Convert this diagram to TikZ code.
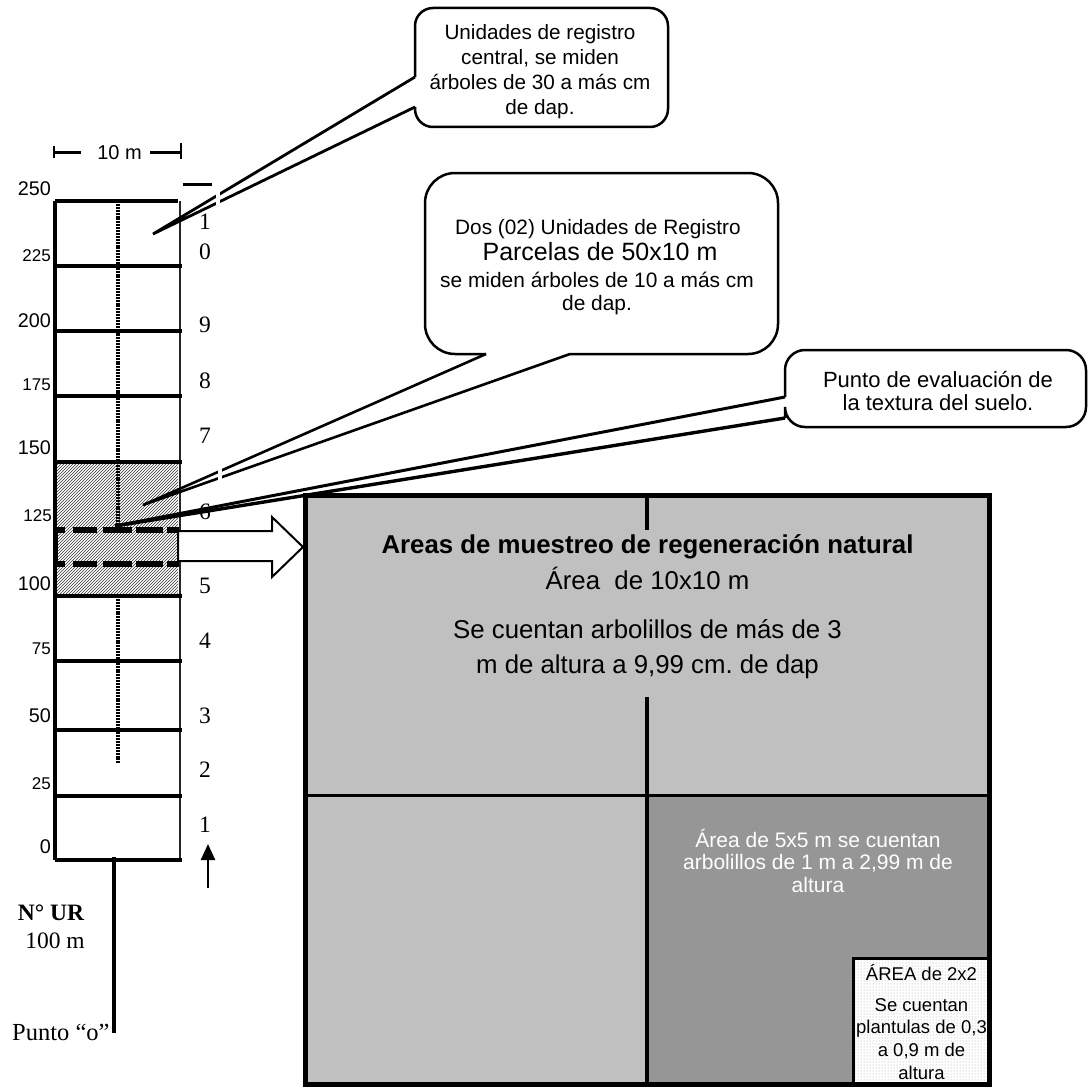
\documentclass[tikz,border=0pt]{standalone}
\usepackage{fontspec}
\setmainfont{Liberation Sans}
\newfontfamily\tnr{Liberation Serif}
\usetikzlibrary{patterns,arrows.meta}
\newcommand\myfs[2]{\fontsize{#1}{#2}\selectfont}
\definecolor{lightg}{HTML}{C0C0C0}
\definecolor{darkg}{HTML}{969696}
\begin{document}
\frenchspacing
\begin{tikzpicture}[x=1pt,y=1pt,yscale=-1,
  stripline/.style={line width=3.2pt},
  calloutbox/.style={line width=2.5pt, rounded corners=#1},
  tail/.style={line width=2.8pt, line join=miter},
  dotline/.style={line width=4pt, dash pattern=on 2pt off 0.9pt},
  dashbox/.style={line width=6pt},
  biglbl/.style={font=\myfs{19.8}{22}, anchor=base east, inner sep=0pt},
  smalllbl/.style={font=\myfs{17}{19}, anchor=base east, inner sep=0pt},
  numlbl/.style={font=\tnr\myfs{23.5}{25}, anchor=base, inner sep=0pt},
  boxtxt/.style={font=\myfs{25.8}{28}, anchor=base, inner sep=0pt},
  darktxt/.style={font=\myfs{21}{22.5}, anchor=base, inner sep=0pt, text=white},
  smalltxt/.style={font=\myfs{18.5}{22.5}, anchor=base, inner sep=0pt}
]
\useasboundingbox (0,0) rectangle (1088,1089);

% ---------- strip ----------
\fill[pattern=north east lines, pattern color=black!80] (55,462) rectangle (178,596);
\draw[dotline] (118,201) -- (118,525);
\draw[dotline] (118,596) -- (118,763);
\draw[dashbox, dash pattern=on 12pt off 8pt on 24pt off 6pt on 29pt off 4pt on 27pt off 4pt on 20pt] (53,530) -- (180,530);
\draw[dashbox, dash pattern=on 12pt off 8pt on 24pt off 6pt on 29pt off 4pt on 27pt off 4pt on 20pt] (53,564) -- (180,564);
\draw[line width=5pt] (55.5,530) -- (55.5,564);

\draw[black!85, line width=1.2pt] (180,201) -- (180,860);
\draw[stripline] (55,201) -- (55,860);
\draw[stripline] (55,201) -- (178,201);
\foreach \yy in {266,331,396,462,596,661,730,796} \draw[stripline] (55,\yy) -- (182,\yy);
\draw[stripline] (55,860) -- (182,860);
\draw[line width=3pt] (183,184) -- (212,184);

% dimension 10 m
\draw[line width=2.8pt] (54,146) -- (54,158);
\draw[line width=2.8pt] (54,152.5) -- (81,152.5);
\node[font=\myfs{20}{22}, anchor=base, inner sep=0pt] (dim) at (119.5,160) {10 m};
\draw[line width=2.8pt] (150,152.5) -- (181,152.5);
\draw[line width=2.8pt] (181,143) -- (181,159);

% left labels
\node[biglbl] (l250) at (51,195) {250};
\node[smalllbl] (l225) at (51,261) {225};
\node[biglbl] (l200) at (51,327) {200};
\node[smalllbl] (l175) at (51,390) {175};
\node[biglbl] (l150) at (51,454) {150};
\node[smalllbl] (l125) at (52,521) {125};
\node[biglbl] (l100) at (51,590) {100};
\node[smalllbl] (l75) at (51,654) {75};
\node[biglbl] (l50) at (51,722) {50};
\node[smalllbl] (l25) at (51,789) {25};
\node[biglbl] (l0) at (51,853) {0};

% right numbers
\node[numlbl] (n10a) at (205,229) {1};
\node[numlbl] (n10b) at (205,259) {0};
\node[numlbl] (n9) at (205,332) {9};
\node[numlbl] (n8) at (205,388) {8};
\node[numlbl] (n7) at (205,443) {7};
\node[numlbl] (n6) at (205,519) {6};
\node[numlbl] (n5) at (205,593) {5};
\node[numlbl] (n4) at (205,648) {4};
\node[numlbl] (n3) at (205,723) {3};
\node[numlbl] (n2) at (205,777) {2};
\node[numlbl] (n1) at (205,832) {1};
\coordinate (upA) at (208,888);
\coordinate (upB) at (208,844);
\draw[line width=2.5pt, -{Triangle[length=16pt,width=14pt]}] (upA) -- (upB);

% bottom
\node[font=\tnr\bfseries\myfs{23.5}{25}, anchor=base, inner sep=0pt] (nur) at (51,920) {N° UR};
\node[font=\tnr\myfs{23.5}{25}, anchor=base, inner sep=0pt] (cien) at (55,948) {100 m};
\node[font=\tnr\myfs{24.5}{25}, anchor=base west, inner sep=0pt] (punto) at (12,1040) {Punto “o”};
\coordinate (ptop) at (113.5,857);
\coordinate (pbot) at (113.5,1033);
\draw[line width=4pt] (ptop) -- (pbot);

% block arrow
\draw[line width=2pt, fill=white, line join=miter] (178,531) -- (272,531) -- (272,517) -- (303,547) -- (272,577) -- (272,561) -- (178,561) -- cycle;

% ---------- big box ----------
\fill[lightg] (305.5,495.5) rectangle (989.5,1084.5);
\fill[darkg] (647,795.5) rectangle (989.5,1084.5);
\fill[white] (853.5,958) rectangle (989.5,1084.5);
\fill[pattern=dots, pattern color=black!35] (853.5,958) rectangle (989.5,1084.5);
\draw[line width=3pt] (853.5,1084.5) -- (853.5,958) -- (989.5,958);
\draw[line width=3.5pt] (305.5,795.5) -- (989.5,795.5);
\draw[line width=3.5pt] (647,495.5) -- (647,530);
\draw[line width=3.5pt] (647,697) -- (647,1084.5);
\draw[line width=5pt] (305.5,495.5) rectangle (989.5,1084.5);

\node[boxtxt, font=\bfseries\myfs{25.8}{28}] (head) at (647.5,553) {Areas de muestreo de regeneración natural};
\node[boxtxt] (a10) at (647.5,589) {Área\ \ de 10x10 m};
\node[boxtxt] (se1) at (647.5,638) {Se cuentan arbolillos de más de 3};
\node[boxtxt] (se2) at (647.5,673) {m de altura a 9,99 cm. de dap};

\node[darktxt] (d1) at (818,847) {Área de 5x5 m se cuentan};
\node[darktxt] (d2) at (818,869.5) {arbolillos de 1 m a 2,99 m de};
\node[darktxt] (d3) at (818,892) {altura};

\node[smalltxt] (s1) at (921.5,980) {ÁREA de 2x2};
\node[smalltxt] (s2) at (921.5,1011) {Se cuentan};
\node[smalltxt] (s3) at (921.5,1033) {plantulas de 0,3};
\node[smalltxt] (s4) at (921.5,1056) {a 0,9 m de};
\node[smalltxt] (s5) at (921.5,1079) {altura};

% ---------- callouts ----------
\coordinate (tip1) at (153,234);
\coordinate (tip2) at (143,505);
\coordinate (tip3) at (115,526);

% callout 1
\fill[white, rounded corners=18pt] (415,8) rectangle (668,127);
\draw[calloutbox=18pt] (415,77) -- (415,8) -- (668,8) -- (668,127) -- (415,127) -- (415,107);
\draw[tail] (415,77) -- (tip1) -- (415,107);
\node[font=\myfs{20.7}{25.3}, align=center, anchor=base, inner sep=0pt] (c1) at (540,115)
  {Unidades de registro\\central, se miden\\árboles de 30 a más cm\\de dap.};

% callout 2
\fill[white, rounded corners=30pt] (425,173) rectangle (778,354);
\draw[calloutbox=30pt] (570,354) -- (778,354) -- (778,173) -- (425,173) -- (425,354) -- (486,354);
\draw[tail, line width=2.6pt] (486,354) -- (tip2) -- (570,354);
\node[font=\myfs{20.8}{24}, anchor=base, inner sep=0pt] (c2a) at (598,234) {Dos (02) Unidades de Registro};
\node[font=\myfs{25}{28}, anchor=base, inner sep=0pt] (c2b) at (600,260) {Parcelas de 50x10 m};
\node[font=\myfs{20.9}{24}, anchor=base, inner sep=0pt] (c2c) at (597,287) {se miden árboles de 10 a más cm};
\node[font=\myfs{20.9}{24}, anchor=base, inner sep=0pt] (c2d) at (597,310) {de dap.};

% callout 3
\fill[white, rounded corners=20pt] (785,350) rectangle (1086,427);
\draw[calloutbox=20pt] (785,397) -- (785,350) -- (1086,350) -- (1086,427) -- (785,427) -- (785,418);
\draw[tail, line width=3pt] (785,397) -- (tip3);
\draw[tail, line width=3.4pt] (785,418) -- (tip3);
\node[font=\myfs{22}{23.5}, align=center, anchor=base, inner sep=0pt] (c3) at (938,410.5)
  {Punto de evaluación de\\la textura del suelo.};

% white gaps on tails
\draw[white, line width=4pt] (218,189) -- (218,210);
\draw[white, line width=4pt] (220,462) -- (220,487);
\end{tikzpicture}
\end{document}
